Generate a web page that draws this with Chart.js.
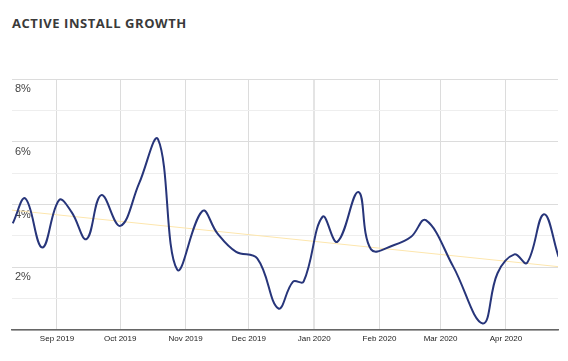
<!DOCTYPE html>
<html>
<head>
<meta charset="utf-8">
<script src="https://cdn.jsdelivr.net/npm/chart.js@4"></script>
<style>
  html, body { margin: 0; padding: 0; background: #fff; }
  body { width: 568px; height: 361px; position: relative; overflow: hidden; }
  #title {
    position: absolute; left: 12px; top: 17px;
    font: 700 13px/13px "Open Sans", sans-serif;
    letter-spacing: 0.55px; color: #3a3a3a;
  }
  #growthChart { position: absolute; left: 0; top: 0; }
</style>
</head>
<body>
<div id="title">ACTIVE INSTALL GROWTH</div>
<canvas id="growthChart" width="568" height="361"></canvas>
<script>
// values
const dates = [
  '2019-08-11', '2019-08-17', '2019-08-25', '2019-09-02', '2019-09-08', '2019-09-15',
  '2019-09-22', '2019-10-01', '2019-10-10', '2019-10-19', '2019-10-28', '2019-11-09',
  '2019-11-16', '2019-11-25', '2019-12-05', '2019-12-15', '2019-12-22', '2019-12-27',
  '2020-01-05', '2020-01-12', '2020-01-22', '2020-01-28', '2020-02-08', '2020-02-16',
  '2020-02-23', '2020-03-07', '2020-03-21', '2020-03-28', '2020-04-05', '2020-04-11',
  '2020-04-19', '2020-04-26'
];
const growth = [
  3.40, 4.19, 2.63, 4.14, 3.75, 2.90,
  4.30, 3.32, 4.68, 6.07, 1.93, 3.79,
  3.09, 2.49, 2.28, 0.69, 1.54, 1.54,
  3.61, 2.81, 4.40, 2.57, 2.71, 2.97,
  3.50, 2.02, 0.21, 1.81, 2.41, 2.14,
  3.69, 2.33
];
const trendStart = 3.82;
const trendEnd = 2.02;
const rangeStart = '2019-08-10';
const rangeEnd = '2020-04-25';
const monthDates = ['2019-09-01', '2019-10-01', '2019-11-01', '2019-12-01', '2020-01-01', '2020-02-01', '2020-03-01', '2020-04-01'];
const monthLabels = ['Sep 2019', 'Oct 2019', 'Nov 2019', 'Dec 2019', 'Jan 2020', 'Feb 2020', 'Mar 2020', 'Apr 2020'];

const DAY = 86400000;
const origin = Date.UTC(2019, 7, 1);
const toDay = s => {
  const p = s.split('-').map(Number);
  return (Date.UTC(p[0], p[1] - 1, p[2]) - origin) / DAY;
};
const days = dates.map(toDay);
const monthDays = monthDates.map(toDay);
// axis runs from mid-day of the first to mid-day of the last date
const minDay = toDay(rangeStart) + 0.65;
const maxDay = toDay(rangeEnd) + 0.7;
const yearStart = toDay('2020-01-01');

const ctx = document.getElementById('growthChart').getContext('2d');
const growthChart = new Chart(ctx, {
  type: 'line',
  data: {
    datasets: [{
      label: 'Active install growth',
      data: days.map((d, i) => ({ x: d, y: growth[i] })),
      borderColor: '#27357a',
      borderWidth: 2,
      tension: 0.4,
      pointRadius: 0,
      fill: false
    }, {
      label: 'Trend',
      data: [{ x: minDay, y: trendStart }, { x: maxDay, y: trendEnd }],
      borderColor: '#fde6ad',
      borderWidth: 1,
      pointRadius: 0,
      fill: false
    }]
  },
  options: {
    responsive: false,
    devicePixelRatio: 1,
    animation: false,
    layout: { padding: { left: 12, right: 10, top: 79, bottom: 0 } },
    plugins: {
      legend: { display: false },
      tooltip: { enabled: false }
    },
    scales: {
      x: {
        type: 'linear',
        min: minDay,
        max: maxDay,
        afterBuildTicks: scale => {
          scale.ticks = monthDays.map(v => ({ value: v }));
        },
        afterFit: scale => { scale.height = 31; },
        ticks: {
          autoSkip: false,
          maxRotation: 0,
          padding: 4,
          color: '#222',
          font: { family: 'Liberation Sans, Arial, sans-serif', size: 8 },
          callback: (v, i) => monthLabels[i]
        },
        grid: {
          drawTicks: false,
          color: c => (c.tick && c.tick.value === yearStart ? '#e4e4e4' : '#dcdcdc'),
          lineWidth: c => (c.tick && c.tick.value === yearStart ? 2 : 1)
        },
        border: { display: true, color: '#666', width: 1.5 }
      },
      y: {
        min: 0,
        max: 8,
        afterFit: scale => { scale.width = 0; },
        ticks: {
          stepSize: 1,
          mirror: true,
          padding: 3,
          labelOffset: 10,
          color: '#444',
          font: { family: 'Liberation Sans, Arial, sans-serif', size: 11 },
          callback: v => (v > 0 && v % 2 === 0 ? v + '%' : '')
        },
        grid: {
          drawTicks: false,
          color: c => (c.tick && c.tick.value % 2 === 0 ? '#dcdcdc' : '#eeeeee')
        },
        border: { display: false }
      }
    }
  }
});
</script>
</body>
</html>
